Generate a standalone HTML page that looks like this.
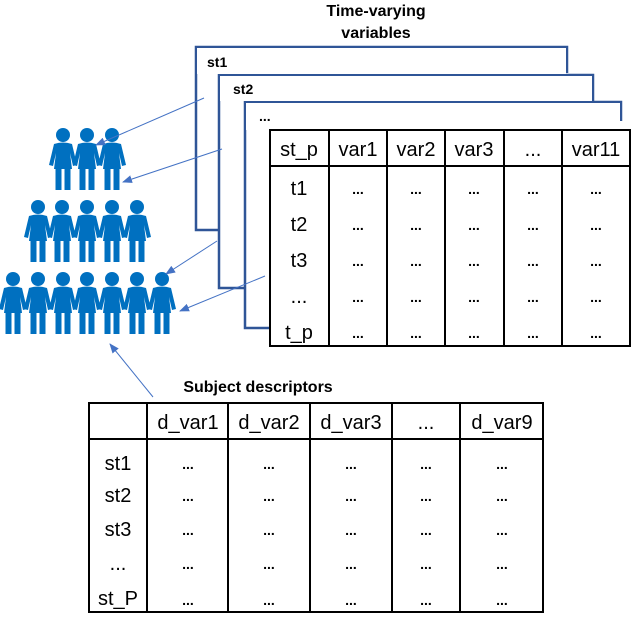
<!DOCTYPE html>
<html><head><meta charset="utf-8"><style>
html,body{margin:0;padding:0;background:#fff}
svg text{font-family:"Liberation Sans",sans-serif}
</style></head><body>
<svg width="632" height="616" viewBox="0 0 632 616" xmlns="http://www.w3.org/2000/svg">
<defs>
<marker id="ah" markerWidth="10" markerHeight="8" refX="9" refY="4" orient="auto" markerUnits="userSpaceOnUse">
<path d="M0,0 L10,4 L0,8 Z" fill="#4472c4"/></marker>
<g id="p">
<circle cx="0" cy="7" r="7"/>
<path d="M-9,16 Q0,13 9,16 L14,37 L10,38 L7,25 L9,41 L-9,41 L-7,25 L-10,38 L-14,37 Z"/>
<rect x="-7.5" y="39" width="6" height="23"/>
<rect x="1.5" y="39" width="6" height="23"/>
</g>
</defs>
<text x="376" y="16" font-size="16" font-weight="bold" text-anchor="middle">Time-varying</text>
<text x="376" y="38" font-size="16" font-weight="bold" text-anchor="middle">variables</text>
<g fill="none" stroke="#2f5597" stroke-width="2.5">
<path d="M219,230 H196 V47 H567 V73"/>
<path d="M245,288 H219 V75 H593 V101"/>
<path d="M270,328 H245 V102 H621 V121"/>
</g>
<g fill="#fff" stroke="none">
<rect x="197" y="48" width="369" height="26"/>
<rect x="220" y="76" width="372" height="25"/>
<rect x="246" y="103" width="374" height="27"/>
</g>
<text x="207" y="67" font-size="14" font-weight="bold">st1</text>
<text x="233" y="94" font-size="14" font-weight="bold">st2</text>
<text x="259" y="121" font-size="14" font-weight="bold">...</text>
<g fill="#0070c0">
<use href="#p" x="63" y="128"/><use href="#p" x="87" y="128"/><use href="#p" x="112" y="128"/>
<use href="#p" x="38" y="200"/><use href="#p" x="62" y="200"/><use href="#p" x="87" y="200"/><use href="#p" x="112" y="200"/><use href="#p" x="137" y="200"/>
<use href="#p" x="13" y="272"/><use href="#p" x="38" y="272"/><use href="#p" x="63" y="272"/><use href="#p" x="87" y="272"/><use href="#p" x="112" y="272"/><use href="#p" x="137" y="272"/><use href="#p" x="162" y="272"/>
</g>
<g stroke="#4472c4" stroke-width="1" marker-end="url(#ah)">
<line x1="204" y1="98" x2="96" y2="145"/>
<line x1="222" y1="149" x2="123" y2="182"/>
<line x1="217" y1="241" x2="166" y2="274"/>
<line x1="265" y1="276" x2="180" y2="311"/>
<line x1="153" y1="397" x2="110" y2="344"/>
</g>
<rect x="270" y="130" width="360" height="216" fill="#fff" stroke="#000" stroke-width="2"/>
<line x1="270" y1="166" x2="630" y2="166" stroke="#000" stroke-width="2"/>
<g stroke="#000" stroke-width="2">
<line x1="329" y1="130" x2="329" y2="346"/><line x1="387" y1="130" x2="387" y2="346"/>
<line x1="445" y1="130" x2="445" y2="346"/><line x1="504" y1="130" x2="504" y2="346"/>
<line x1="562" y1="130" x2="562" y2="346"/>
</g>
<g font-size="20" text-anchor="middle" fill="#000">
<text x="299" y="156">st_p</text><text x="358" y="156">var1</text><text x="416" y="156">var2</text><text x="474" y="156">var3</text><text x="533" y="156">...</text><text x="596" y="156">var11</text>
<text x="299" y="195">t1</text><text x="299" y="231">t2</text><text x="299" y="267">t3</text><text x="299" y="303">...</text><text x="299" y="339">t_p</text>
</g>
<g font-size="14" font-weight="bold" text-anchor="middle">
<text x="358" y="194">...</text><text x="416" y="194">...</text><text x="474" y="194">...</text><text x="533" y="194">...</text><text x="596" y="194">...</text>
<text x="358" y="230">...</text><text x="416" y="230">...</text><text x="474" y="230">...</text><text x="533" y="230">...</text><text x="596" y="230">...</text>
<text x="358" y="266">...</text><text x="416" y="266">...</text><text x="474" y="266">...</text><text x="533" y="266">...</text><text x="596" y="266">...</text>
<text x="358" y="302">...</text><text x="416" y="302">...</text><text x="474" y="302">...</text><text x="533" y="302">...</text><text x="596" y="302">...</text>
<text x="358" y="338">...</text><text x="416" y="338">...</text><text x="474" y="338">...</text><text x="533" y="338">...</text><text x="596" y="338">...</text>
</g>
<text x="258" y="392" font-size="16" font-weight="bold" text-anchor="middle">Subject descriptors</text>
<rect x="89" y="403" width="454" height="209" fill="#fff" stroke="#000" stroke-width="2"/>
<line x1="89" y1="439" x2="543" y2="439" stroke="#000" stroke-width="2"/>
<g stroke="#000" stroke-width="2">
<line x1="147" y1="403" x2="147" y2="612"/><line x1="228" y1="403" x2="228" y2="612"/>
<line x1="310" y1="403" x2="310" y2="612"/><line x1="392" y1="403" x2="392" y2="612"/>
<line x1="460" y1="403" x2="460" y2="612"/>
</g>
<g font-size="20" text-anchor="middle">
<text x="188" y="429">d_var1</text><text x="269" y="429">d_var2</text><text x="351" y="429">d_var3</text><text x="426" y="429">...</text><text x="502" y="429">d_var9</text>
<text x="118" y="470">st1</text><text x="118" y="502">st2</text><text x="118" y="536">st3</text><text x="118" y="570">...</text><text x="118" y="605">st_P</text>
</g>
<g font-size="14" font-weight="bold" text-anchor="middle">
<text x="188" y="469">...</text><text x="269" y="469">...</text><text x="351" y="469">...</text><text x="426" y="469">...</text><text x="502" y="469">...</text>
<text x="188" y="501">...</text><text x="269" y="501">...</text><text x="351" y="501">...</text><text x="426" y="501">...</text><text x="502" y="501">...</text>
<text x="188" y="535">...</text><text x="269" y="535">...</text><text x="351" y="535">...</text><text x="426" y="535">...</text><text x="502" y="535">...</text>
<text x="188" y="569">...</text><text x="269" y="569">...</text><text x="351" y="569">...</text><text x="426" y="569">...</text><text x="502" y="569">...</text>
<text x="188" y="605">...</text><text x="269" y="605">...</text><text x="351" y="605">...</text><text x="426" y="605">...</text><text x="502" y="605">...</text>
</g>
</svg>
</body></html>
